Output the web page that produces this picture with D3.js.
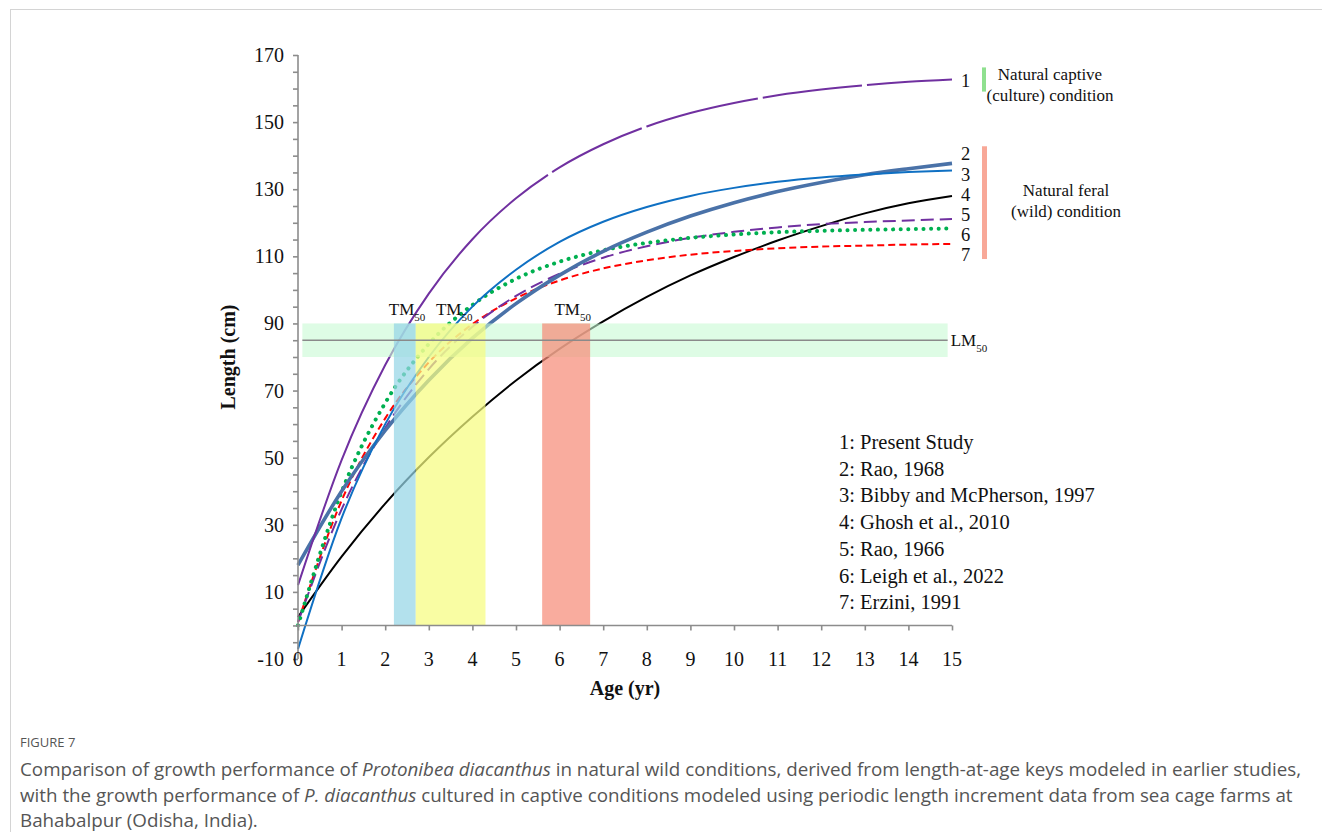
<!DOCTYPE html>
<html>
<head>
<meta charset="utf-8">
<script src="https://cdn.jsdelivr.net/npm/d3@7"></script>
<style>
  body { margin: 0; background: #fff; }
  svg text { font-family: "Liberation Serif", "Times New Roman", serif; }
  .cap { font-family: "Open Sans", sans-serif; fill: #555; }
</style>
</head>
<body>
<svg id="chart" width="1322" height="832"></svg>
<script>
// ages (yr) and length-at-age (cm)
var ages = [0, 1, 2, 3, 4, 5, 6, 7, 8, 9, 10, 11, 12, 13, 14, 15];
var presentStudy = [12, 49.3, 77.6, 98.9, 115.1, 127.3, 136.5, 143.4, 148.7, 152.7, 155.7, 158.0, 159.7, 161.0, 162.0, 162.7];
var rao1968      = [18, 40.0, 58.1, 73.1, 85.6, 95.9, 104.4, 111.5, 117.2, 122.0, 126.0, 129.3, 132.0, 134.3, 136.1, 137.7];
var bibby1997    = [-7, 32, 60, 80, 95, 106, 114.3, 120.3, 124.7, 128, 130.4, 132.2, 133.5, 134.4, 135.1, 135.6];
var ghosh2010    = [2.5, 20.5, 36.3, 50.1, 62.2, 73.0, 82.4, 90.6, 97.9, 104.3, 109.8, 114.7, 119.0, 122.8, 125.8, 128.0];
var rao1966      = [1, 34.6, 58.8, 76.4, 89.0, 98.2, 104.8, 109.6, 113.0, 115.5, 117.3, 118.6, 119.6, 120.2, 120.7, 121.1];
var leigh2022    = [0, 39.8, 66.3, 83.9, 95.5, 103.3, 108.4, 111.8, 114.0, 115.5, 116.5, 117.2, 117.6, 117.9, 118.1, 118.3];
var erzini1991   = [1, 37.2, 61.7, 78.4, 89.8, 97.5, 102.8, 106.4, 108.8, 110.5, 111.6, 112.4, 112.9, 113.2, 113.5, 113.7];

var legendText = ["1: Present Study", "2: Rao, 1968", "3: Bibby and McPherson, 1997",
    "4: Ghosh et al., 2010", "5: Rao, 1966", "6: Leigh et al., 2022", "7: Erzini, 1991"];
var endLabelY = [162.5, 140.5, 134.5, 128.5, 122.5, 116.5, 110.5];

// maturity windows (age, yr) and length-at-maturity band (cm)
var tmBars = [[2.2, 2.7], [2.7, 4.3], [5.6, 6.7]];
var tmLabelAt = [2.92, 4.0, 6.72];
var lmBand = [80, 90];
var lm50 = 85;

var yTicks = [170, 150, 130, 110, 90, 70, 50, 30, 10, -10];
var xTicks = [0, 1, 2, 3, 4, 5, 6, 7, 8, 9, 10, 11, 12, 13, 14, 15];

var svg = d3.select("#chart");

var x = d3.scaleLinear().domain([0, 15]).range([298, 952]);
var y = d3.scaleLinear().domain([-10, 170]).range([659, 55]);

// frame lines
svg.append("line").attr("x1", 10).attr("x2", 1322).attr("y1", 9.5).attr("y2", 9.5)
    .attr("stroke", "#d4d4d4");
svg.append("line").attr("x1", 10.5).attr("x2", 10.5).attr("y1", 9).attr("y2", 832)
    .attr("stroke", "#d4d4d4");

var series = [
    { data: presentStudy, color: "#7030a0", width: 2, dash: "490,5,100,5,115,5,100,5,300" },
    { data: rao1968, color: "#4a72a8", width: 3.6, dash: null },
    { data: bibby1997, color: "#0f70c3", width: 2, dash: null },
    { data: ghosh2010, color: "#000000", width: 2, dash: null },
    { data: rao1966, color: "#7030a0", width: 2, dash: "13,6" },
    { data: leigh2022, color: "#00b050", width: 4, dash: "0.1,7.5", cap: "round" },
    { data: erzini1991, color: "#ff0000", width: 2, dash: "7,4" }
];

var line = d3.line()
    .x(function (d, i) { return x(ages[i]); })
    .y(function (d) { return y(d); })
    .curve(d3.curveMonotoneX);

// draw back to front so the study curve sits on top
[3, 6, 4, 5, 1, 2, 0].forEach(function (k) {
    var s = series[k];
    svg.append("path")
        .attr("d", line(s.data))
        .attr("fill", "none")
        .attr("stroke", s.color)
        .attr("stroke-width", s.width)
        .attr("stroke-dasharray", s.dash)
        .attr("stroke-linecap", s.cap || "butt");
});

// LM50 band and TM50 bars over the curves
svg.append("rect")
    .attr("x", x(0.1)).attr("width", x(14.9) - x(0.1))
    .attr("y", y(lmBand[1])).attr("height", y(lmBand[0]) - y(lmBand[1]))
    .attr("fill", "rgb(200,250,212)").attr("fill-opacity", 0.6);

var barColors = ["rgb(150,214,230)", "rgb(247,252,128)", "rgb(247,140,120)"];
tmBars.forEach(function (b, i) {
    svg.append("rect")
        .attr("x", x(b[0])).attr("width", x(b[1]) - x(b[0]))
        .attr("y", y(90)).attr("height", y(0) - y(90))
        .attr("fill", barColors[i]).attr("fill-opacity", 0.72);
});

svg.append("line")
    .attr("x1", x(0.1)).attr("x2", x(14.9))
    .attr("y1", y(lm50)).attr("y2", y(lm50))
    .attr("stroke", "#8a8a8a").attr("stroke-width", 1.6);

var lmText = svg.append("text").attr("x", x(14.9) + 3).attr("y", y(lm50) + 6)
    .attr("font-size", 17).attr("fill", "#111");
lmText.append("tspan").text("LM");
lmText.append("tspan").attr("font-size", 11).attr("dy", 6).text("50");

tmLabelAt.forEach(function (t) {
    var tt = svg.append("text").attr("x", x(t)).attr("y", y(90) - 8)
        .attr("text-anchor", "end").attr("font-size", 17).attr("fill", "#111");
    tt.append("tspan").text("TM");
    tt.append("tspan").attr("font-size", 11).attr("dy", 6).text("50");
});

// axes
var yAxis = svg.append("g").attr("transform", "translate(" + x(0) + ",0)")
    .call(d3.axisLeft(y).tickValues(d3.range(-10, 171, 5)).tickSize(5).tickFormat(""));
yAxis.selectAll("path, line").attr("stroke", "#8c8c8c").attr("stroke-width", 1.6);
yAxis.select(".domain").attr("d", "M0," + y(-10) + "V" + y(170));

yAxis.selectAll(".ylab").data(yTicks).enter().append("text")
    .attr("class", "ylab")
    .attr("x", -14).attr("y", function (d) { return y(d) + 7; })
    .attr("text-anchor", "end").attr("font-size", 20).attr("fill", "#111")
    .text(function (d) { return d; });

var xAxis = svg.append("g").attr("transform", "translate(0," + y(0) + ")")
    .call(d3.axisBottom(x).tickValues(xTicks).tickSize(5).tickFormat(""));
xAxis.selectAll("path, line").attr("stroke", "#8c8c8c").attr("stroke-width", 1.6);
xAxis.select(".domain").attr("d", "M" + x(0) + ",0H" + x(15));

svg.selectAll(".xlab").data(xTicks).enter().append("text")
    .attr("class", "xlab")
    .attr("x", function (d) { return x(d); }).attr("y", y(-10) + 7)
    .attr("text-anchor", "middle").attr("font-size", 20).attr("fill", "#111")
    .text(function (d) { return d; });

svg.append("text").attr("x", x(7.5)).attr("y", 695)
    .attr("text-anchor", "middle").attr("font-size", 20).attr("font-weight", "bold")
    .attr("fill", "#111").text("Age (yr)");

svg.append("text").attr("transform", "translate(235," + y(80) + ") rotate(-90)")
    .attr("text-anchor", "middle").attr("font-size", 20).attr("font-weight", "bold")
    .attr("fill", "#111").text("Length (cm)");

// curve numbers and condition groups
endLabelY.forEach(function (v, i) {
    svg.append("text").attr("x", 961).attr("y", y(v) + 6.5)
        .attr("font-size", 18.5).attr("fill", "#111").text(i + 1);
});

svg.append("rect").attr("x", 982).attr("y", y(166.3)).attr("width", 4)
    .attr("height", y(159.1) - y(166.3)).attr("fill", "#8fe08f");
svg.append("rect").attr("x", 982).attr("y", y(142.8)).attr("width", 5)
    .attr("height", y(109.2) - y(142.8)).attr("fill", "#f8a898");

[["Natural captive", 80], ["(culture) condition", 101]].forEach(function (d) {
    svg.append("text").attr("x", 1050).attr("y", d[1]).attr("text-anchor", "middle")
        .attr("font-size", 17).attr("fill", "#111").text(d[0]);
});
[["Natural feral", 196], ["(wild) condition", 217]].forEach(function (d) {
    svg.append("text").attr("x", 1066).attr("y", d[1]).attr("text-anchor", "middle")
        .attr("font-size", 17).attr("fill", "#111").text(d[0]);
});

// legend
legendText.forEach(function (t, i) {
    svg.append("text").attr("x", 839).attr("y", 449 + i * 26.7)
        .attr("font-size", 20.5).attr("fill", "#111").text(t);
});

// caption
svg.append("text").attr("class", "cap").attr("x", 20).attr("y", 747)
    .attr("font-size", 13).text("FIGURE 7");

var cap = svg.append("g");
var l1 = cap.append("text").attr("class", "cap").attr("x", 20).attr("y", 776).attr("font-size", 18.8);
l1.append("tspan").text("Comparison of growth performance of ");
l1.append("tspan").attr("font-style", "italic").text("Protonibea diacanthus");
l1.append("tspan").text(" in natural wild conditions, derived from length-at-age keys modeled in earlier studies,");
var l2 = cap.append("text").attr("class", "cap").attr("x", 20).attr("y", 802).attr("font-size", 18.8);
l2.append("tspan").text("with the growth performance of ");
l2.append("tspan").attr("font-style", "italic").text("P. diacanthus");
l2.append("tspan").text(" cultured in captive conditions modeled using periodic length increment data from sea cage farms at");
cap.append("text").attr("class", "cap").attr("x", 20).attr("y", 827).attr("font-size", 18.8)
    .text("Bahabalpur (Odisha, India).");
</script>
</body>
</html>
